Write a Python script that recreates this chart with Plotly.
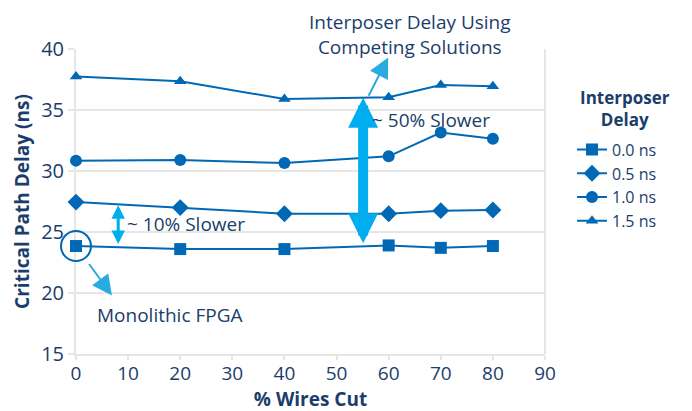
import plotly.graph_objects as go

x_wires = [0, 20, 40, 60, 70, 80]
delay_00 = [23.85, 23.6, 23.6, 23.9, 23.7, 23.85]
delay_05 = [27.45, 27.0, 26.5, 26.5, 26.75, 26.8]
delay_10 = [30.85, 30.9, 30.65, 31.2, 33.15, 32.65]
delay_15 = [37.75, 37.35, 35.9, 36.05, 37.05, 36.95]
series_names = ["0.0 ns", "0.5 ns", "1.0 ns", "1.5 ns"]
symbols = ["square", "diamond", "circle", "triangle-up"]
sizes = [12, 13, 12, 11]

BLUE = "#0068B5"
NAVY = "#1B3D6B"
CYAN = "#00AEEF"
LCYAN = "#29ABE2"
GRID = "#E6E6E6"
FONT = "Open Sans"

fig = go.Figure()
for name, vals, sym, sz in zip(series_names, [delay_00, delay_05, delay_10, delay_15], symbols, sizes):
    fig.add_trace(go.Scatter(
        x=x_wires, y=vals, name=name, mode="lines+markers",
        line=dict(color=BLUE, width=2),
        marker=dict(symbol=sym, size=sz, color=BLUE),
        cliponaxis=False,
    ))

X0, X1, Y0, Y1 = 0, 90, 15, 40
PW, PH = 469, 305

def px(x):
    return (x - X0) / (X1 - X0)

def py(y):
    return (y - Y0) / (Y1 - Y0)

shapes = []
for gy in [20, 25, 30, 35]:
    shapes.append(dict(type="line", xref="paper", yref="y", x0=0, x1=1, y0=gy, y1=gy,
                       line=dict(color=GRID, width=2), layer="below"))
shapes.append(dict(type="line", xref="paper", yref="paper", x0=1, x1=1, y0=0, y1=1,
                   line=dict(color=GRID, width=2), layer="below"))
# circle around monolithic point
cx, cy = px(x_wires[0]), py(delay_00[0])
rx, ry = 15 / PW, 15 / PH
shapes.append(dict(type="circle", xref="paper", yref="paper",
                   x0=cx - rx, x1=cx + rx, y0=cy - ry, y1=cy + ry,
                   line=dict(color=BLUE, width=2)))

tf = dict(family=FONT, size=19, color=NAVY)
annotations = [
    dict(x=55.1, y=36.0, ax=55.1, ay=23.95, xref="x", yref="y", axref="x", ayref="y",
         text="", showarrow=True, arrowhead=2, startarrowhead=2, arrowside="end+start",
         arrowwidth=10, arrowsize=0.6, startarrowsize=0.6, arrowcolor=CYAN, standoff=0, startstandoff=0),
    dict(x=8.1, y=27.2, ax=8.1, ay=23.9, xref="x", yref="y", axref="x", ayref="y",
         text="", showarrow=True, arrowhead=2, startarrowhead=2, arrowside="end+start",
         arrowwidth=3, arrowsize=0.9, startarrowsize=0.9, arrowcolor=CYAN, standoff=0, startstandoff=0),
    dict(x=6.9, y=19.8, ax=2.3, ay=22.5, xref="x", yref="y", axref="x", ayref="y",
         text="", showarrow=True, arrowhead=2, arrowwidth=2, arrowsize=2.0, arrowcolor=LCYAN, standoff=0),
    dict(x=59.9, y=39.3, ax=56.0, ay=36.05, xref="x", yref="y", axref="x", ayref="y",
         text="", showarrow=True, arrowhead=2, arrowwidth=2, arrowsize=2.0, arrowcolor=LCYAN, standoff=0),
    dict(x=56.4, y=34.2, xref="x", yref="y", text="~ 50% Slower", showarrow=False,
         xanchor="left", yanchor="middle", font=tf),
    dict(x=9.4, y=25.65, xref="x", yref="y", text="~ 10% Slower", showarrow=False,
         xanchor="left", yanchor="middle", font=tf),
    dict(x=3.6, y=18.2, xref="x", yref="y", text="Monolithic FPGA", showarrow=False,
         xanchor="left", yanchor="middle", font=tf),
    dict(x=0.712, y=1.048, xref="paper", yref="paper", text="Interposer Delay Using<br>Competing Solutions",
         showarrow=False, xanchor="center", yanchor="middle", font=tf),
    # legend title
    dict(x=1.1706, y=0.805, xref="paper", yref="paper", text="<b>Interposer<br>Delay</b>",
         showarrow=False, xanchor="center", yanchor="middle", align="center",
         font=dict(family=FONT, size=17, color=NAVY)),
]

fig.update_layout(
    width=692, height=411,
    margin=dict(l=68, r=692 - 68 - PW, t=41, b=411 - 41 - PH, autoexpand=False),
    paper_bgcolor="white", plot_bgcolor="white",
    font=dict(family=FONT, size=19, color=NAVY),
    shapes=shapes, annotations=annotations,
    showlegend=True,
    legend=dict(
        x=1.0576, y=0.726, xanchor="left", yanchor="top",
        font=dict(family=FONT, size=16, color=NAVY),
        tracegroupgap=0, itemwidth=30, bgcolor="rgba(0,0,0,0)",
    ),
    xaxis=dict(range=[X0, X1], tickvals=list(range(0, 91, 10)), showgrid=False, zeroline=False,
               showline=True, linecolor=GRID, linewidth=2, ticks="outside", ticklen=4,
               tickcolor=GRID, tickwidth=2, tickfont=dict(family=FONT, size=19, color=NAVY),
               ticklabelstandoff=-3,
               layer="below traces", automargin=False,
               title=dict(text="<b>% Wires Cut</b>", font=dict(family=FONT, size=19, color=NAVY), standoff=6)),
    yaxis=dict(range=[Y0, Y1], tickvals=list(range(15, 41, 5)), showgrid=False, zeroline=False,
               showline=True, linecolor=GRID, linewidth=2, ticks="outside", ticklen=6,
               tickcolor=GRID, tickwidth=2, tickfont=dict(family=FONT, size=20, color=NAVY),
               layer="below traces", automargin=False,
               title=dict(text="<b>Critical Path Delay (ns)</b>", font=dict(family=FONT, size=19, color=NAVY), standoff=6)),
)

fig.write_html("out.html")
